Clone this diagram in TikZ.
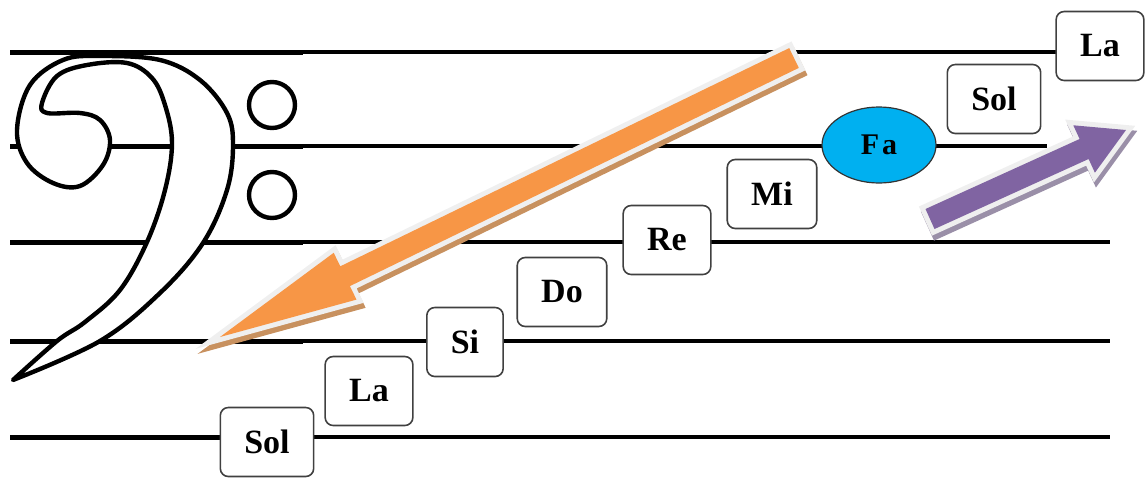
\documentclass[tikz,border=0pt]{standalone}
\usepackage{fontspec}
\setmainfont{Liberation Serif}
\usetikzlibrary{shapes.geometric}
\definecolor{arrowOrange}{HTML}{F79646}
\definecolor{orangeShadow}{HTML}{C8915F}
\definecolor{arrowPurple}{HTML}{8064A2}
\definecolor{purpleShadow}{HTML}{9A8FA8}
\definecolor{glowGray}{HTML}{EFEFEF}
\definecolor{faBlue}{HTML}{00B0F0}

\begin{document}
\begin{tikzpicture}[x=0.5pt, y=-0.5pt,
    staffline/.style={line width=2pt, black},
    thickpart/.style={line width=2.5pt, black},
    clefline/.style={line width=2.2pt, fill=white, line join=round},
    notebox/.style={draw=black!75, line width=0.8pt, rounded corners=4pt,
                    fill=white, minimum height=34.5pt, inner xsep=12pt,
                    font=\bfseries\fontsize{17}{20}\selectfont},
    fanote/.style={ellipse, draw=black!80, line width=0.6pt, fill=faBlue,
                   minimum width=57pt, minimum height=38pt, inner sep=0pt,
                   font=\bfseries\fontsize{15}{18}\selectfont},
    blockarrow/.style n args={2}{fill=#1, line join=miter, miter limit=6,
        preaction={draw=#2, fill=#2, line width=5pt,
                   transform canvas={shift={(1pt,-2.5pt)}}},
        preaction={draw=glowGray, line width=5pt}}]
    \useasboundingbox (0,0) rectangle (1146,477);

    \foreach \y/\e in {52/1057, 146/1047, 242/1110, 341/1110, 437/1110} {
      \draw[staffline] (10,\y) -- (\e,\y);
      \draw[thickpart] (10,\y) -- (303,\y);
    }

    \draw[clefline] plot[smooth, tension=0.6] coordinates {
        (13,380) (100,341) (160,293) (203,243) (227,190) (233,145)
        (227,113) (200,80) (160,60) (100,56) (63,60) (30,85) (17,130)
        (27,163) (53,183) (80,186) (103,165) (110,140) (100,120)
        (80,113) (47,113) (42,103) (57,76) (87,65) (127,63) (152,78)
        (165,105) (172,143) (165,190) (147,242) (120,290) (85,322)
        (57,341) (13,380)} -- cycle;
    \draw[line width=2.2pt] (272,105) circle[radius=23];
    \draw[line width=2.2pt] (272,195) circle[radius=23];

    \path[blockarrow={arrowOrange}{orangeShadow}]
      (789.2,48.1) -- (340.3,266.3) -- (333.7,252.8) -- (220,337)
      -- (356.5,299.6) -- (349.9,286.1) -- (798.8,67.9) -- cycle;
    \path[blockarrow={arrowPurple}{purpleShadow}]
      (925.5,209.0) -- (1079.6,139.0) -- (1073.3,125.3) -- (1126,130)
      -- (1094.9,172.7) -- (1088.6,159.0) -- (934.5,229.0) -- cycle;

    \node[notebox] (sollow) at (267,442) {Sol};
    \node[notebox] (lalow)  at (369,391) {La};
    \node[notebox] (si)     at (465,342) {Si};
    \node[notebox] (do)     at (562,292) {Do};
    \node[notebox] (re)     at (667,240) {Re};
    \node[notebox] (mi)     at (772,194) {Mi};
    \node[fanote]  (fa)     at (879,145) {F\kern1.5pt a};
    \node[notebox] (solhigh) at (994,99) {Sol};
    \node[notebox] (lahigh)  at (1100,46) {La};
\end{tikzpicture}
\end{document}
